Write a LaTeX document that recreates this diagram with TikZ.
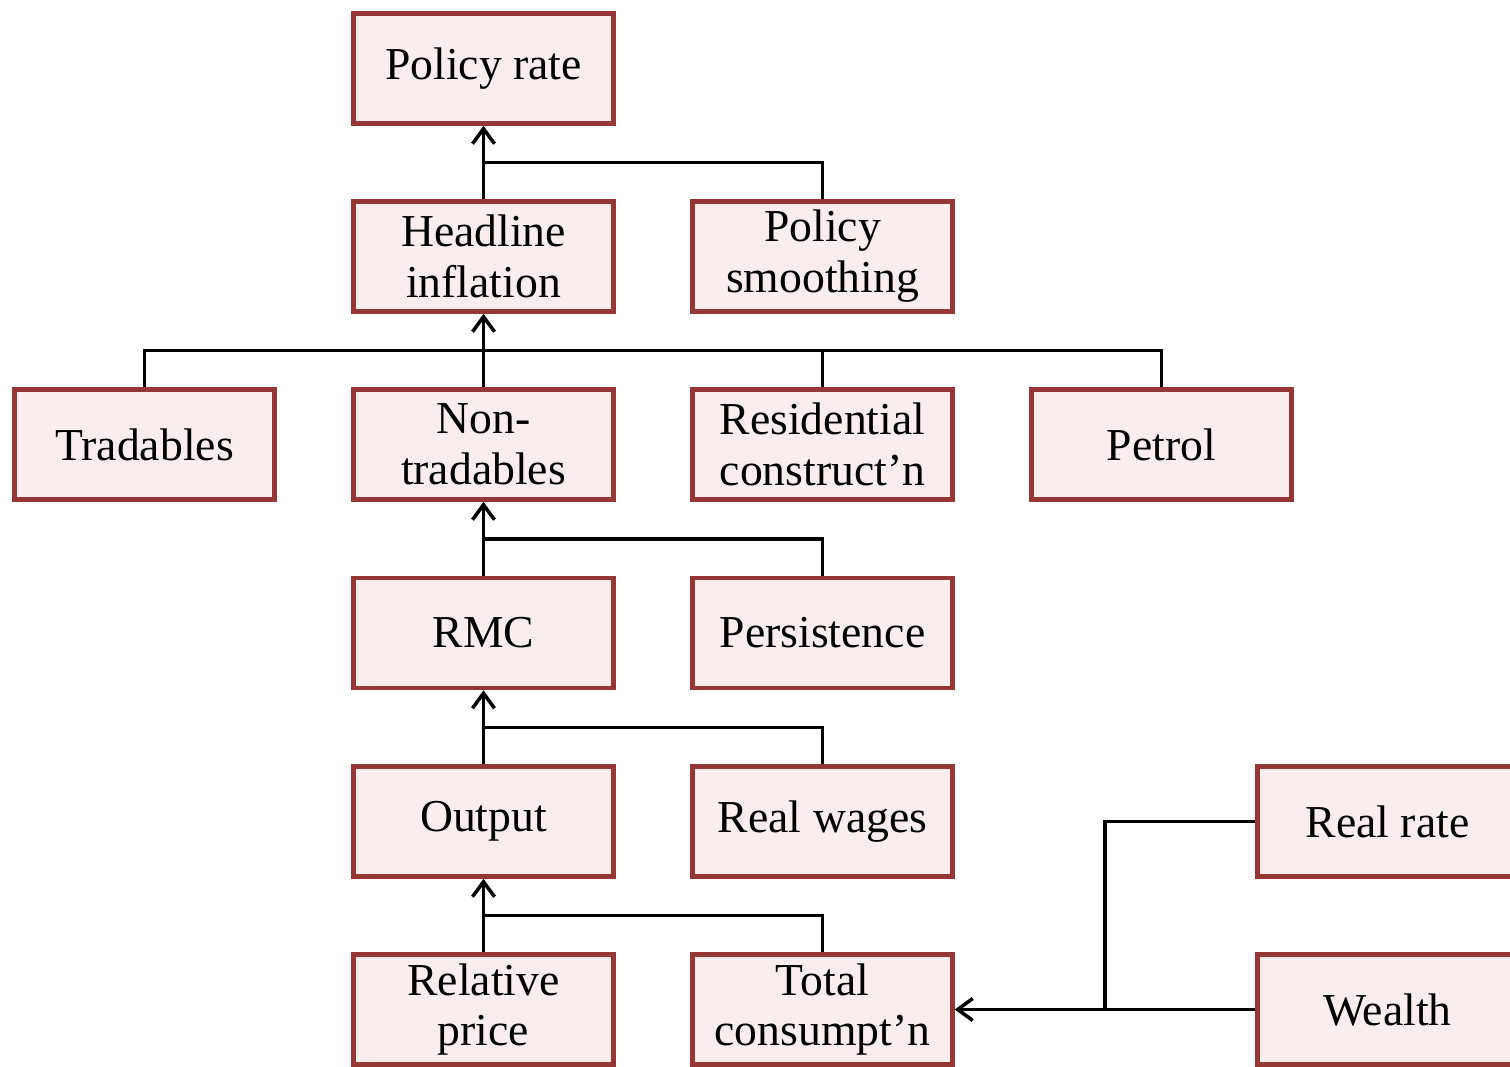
\documentclass[tikz,border=0pt]{standalone}
\usepackage{fontspec}
\setmainfont{Liberation Serif}
\usetikzlibrary{calc,arrows.meta}
\definecolor{boxred}{RGB}{150,55,53}
\definecolor{boxfill}{RGB}{249,237,237}

\begin{document}
\begin{tikzpicture}[x=0.02cm, y=-0.02cm,
    box/.style={rectangle, draw=boxred, fill=boxfill, line width=2.6pt, minimum width=5.2cm, minimum height=2.2cm, align=center, font=\fontsize{26}{29}\selectfont},
    link/.style={line width=2pt},
    >={Straight Barb[length=3mm,width=4.4mm,line width=2pt]}]
    \useasboundingbox (0,0) rectangle (1510,1066);
    \node[box] (policy) at (483.5,68.5) {Policy rate};
    \node[box] (headline) at (483.5,256.5) {Headline\\inflation};
    \node[box] (smooth) at (822.5,256.5) {Policy\\smoothing};
    \node[box] (trad) at (144.5,444.5) {Tradables};
    \node[box] (nontrad) at (483.5,444.5) {Non-\\tradables};
    \node[box] (resid) at (822.5,444.5) {Residential\\construct’n};
    \node[box] (petrol) at (1161.5,444.5) {Petrol};
    \node[box] (rmc) at (483.5,633) {RMC};
    \node[box] (persist) at (822.5,633) {Persistence};
    \node[box] (output) at (483.5,821.5) {Output};
    \node[box] (wages) at (822.5,821.5) {Real wages};
    \node[box] (realrate) at (1387.5,821.5) {Real rate};
    \node[box] (relprice) at (483.5,1009.5) {Relative\\price};
    \node[box] (total) at (822.5,1009.5) {Total\\consumpt’n};
    \node[box] (wealth) at (1387.5,1009.5) {Wealth};
    % joints
    \coordinate (j1) at ($(policy.south)!.5!(headline.north)$);
    \coordinate (j2) at ($(headline.south)!.5!(nontrad.north)$);
    \coordinate (j3) at ($(nontrad.south)!.5!(rmc.north)$);
    \coordinate (j4) at ($(rmc.south)!.5!(output.north)$);
    \coordinate (j5) at ($(output.south)!.5!(relprice.north)$);
    \coordinate (j6) at ($(total.east)!.5!(wealth.west)$);
    \draw[link,->] (headline) -- (policy);
    \draw[link] (smooth.north) |- (j1);
    \draw[link,->] (nontrad) -- (headline);
    \draw[link] (trad.north) |- (j2);
    \draw[link] (resid.north) |- (j2);
    \draw[link] (petrol.north) |- (j2);
    \draw[link,->] (rmc) -- (nontrad);
    \draw[link] (persist.north) |- (j3);
    \draw[link,->] (output) -- (rmc);
    \draw[link] (wages.north) |- (j4);
    \draw[link,->] (relprice) -- (output);
    \draw[link] (total.north) |- (j5);
    \draw[link,->] (wealth) -- (total);
    \draw[link] (realrate.west) -| (j6);
\end{tikzpicture}
\end{document}
